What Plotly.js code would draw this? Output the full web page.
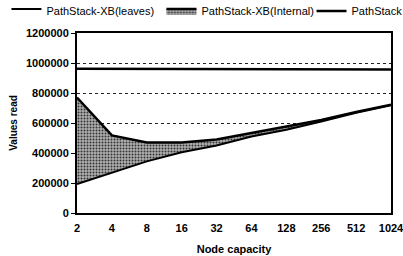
<!DOCTYPE html>
<html>
<head>
<meta charset="utf-8">
<script src="https://cdn.plot.ly/plotly-3.0.1.min.js"></script>
<style>html,body{margin:0;padding:0;background:#fff;}#chart{width:403px;height:256px;}</style>
</head>
<body>
<div id="chart"></div>
<script>
const nodeCapacity = ["2","4","8","16","32","64","128","256","512","1024"];
const leavesValues = [193000, 267000, 344000, 405000, 450000, 510000, 555000, 610000, 668000, 718000];
const internalValues = [577000, 250000, 126000, 65000, 40000, 25000, 20000, 10000, 5000, 4000];
const pathStackValues = [962000, 962000, 961000, 961000, 960000, 958000, 957000, 957000, 957000, 957000];
const yTickValues = [0, 200000, 400000, 600000, 800000, 1000000, 1200000];
const yTickLabels = ["0", "200000", "400000", "600000", "800000", "1000000", "1200000"];

const traces = [
  {
    x: nodeCapacity, y: leavesValues, name: "PathStack-XB(leaves)",
    type: "scatter", mode: "lines", stackgroup: "one",
    line: {color: "#000", width: 2},
    fillcolor: "#ffffff", legend: "legend"
  },
  {
    x: nodeCapacity, y: internalValues, name: "PathStack-XB(Internal)",
    type: "scatter", mode: "lines", stackgroup: "one",
    line: {color: "#000", width: 2.5},
    fillcolor: "#9a9a9a",
    fillpattern: {shape: ".", bgcolor: "#b0b0b0", fgcolor: "#333", size: 3, solidity: 0.35},
    legend: "legend"
  },
  {
    x: nodeCapacity, y: pathStackValues, name: "PathStack",
    type: "scatter", mode: "lines",
    line: {color: "#000", width: 2.5}, legend: "legend2"
  }
];

const layout = {
  width: 403, height: 256,
  margin: {l: 77, r: 12, t: 33, b: 43, pad: 0},
  paper_bgcolor: "#fff", plot_bgcolor: "#fff",
  font: {family: "Liberation Sans, Arial, sans-serif", color: "#000", size: 11},
  showlegend: true,
  legend: {
    orientation: "h", xref: "container", yref: "container",
    x: 0.016, y: 0.957, xanchor: "left", yanchor: "middle",
    font: {size: 11, color: "#000"}, traceorder: "normal",
    itemwidth: 30, entrywidth: 110, bgcolor: "rgba(0,0,0,0)"
  },
  legend2: {
    orientation: "h", xref: "container", yref: "container",
    x: 0.773, y: 0.957, xanchor: "left", yanchor: "middle",
    font: {size: 11, color: "#000"},
    itemwidth: 30, bgcolor: "rgba(0,0,0,0)"
  },
  xaxis: {
    type: "category", range: [0, 9],
    showgrid: false, zeroline: false,
    showline: true, linecolor: "#000", linewidth: 2, mirror: true,
    ticks: "", ticklabelstandoff: 4,
    tickfont: {size: 11, weight: "bold"},
    title: {text: "Node capacity", font: {size: 11, weight: "bold"}, standoff: 12}
  },
  yaxis: {
    range: [0, 1200000],
    tickvals: yTickValues, ticktext: yTickLabels,
    showgrid: true, gridcolor: "#222", griddash: "3px,3px", gridwidth: 1,
    zeroline: false,
    showline: true, linecolor: "#000", linewidth: 2, mirror: true,
    ticks: "outside", ticklen: 4, tickcolor: "#000", tickwidth: 1,
    tickfont: {size: 11, weight: "bold"},
    title: {text: "Values read", font: {size: 10, weight: "bold"}, standoff: 6}
  }
};

Plotly.newPlot("chart", traces, layout, {displayModeBar: false, staticPlot: true});
</script>
</body>
</html>
